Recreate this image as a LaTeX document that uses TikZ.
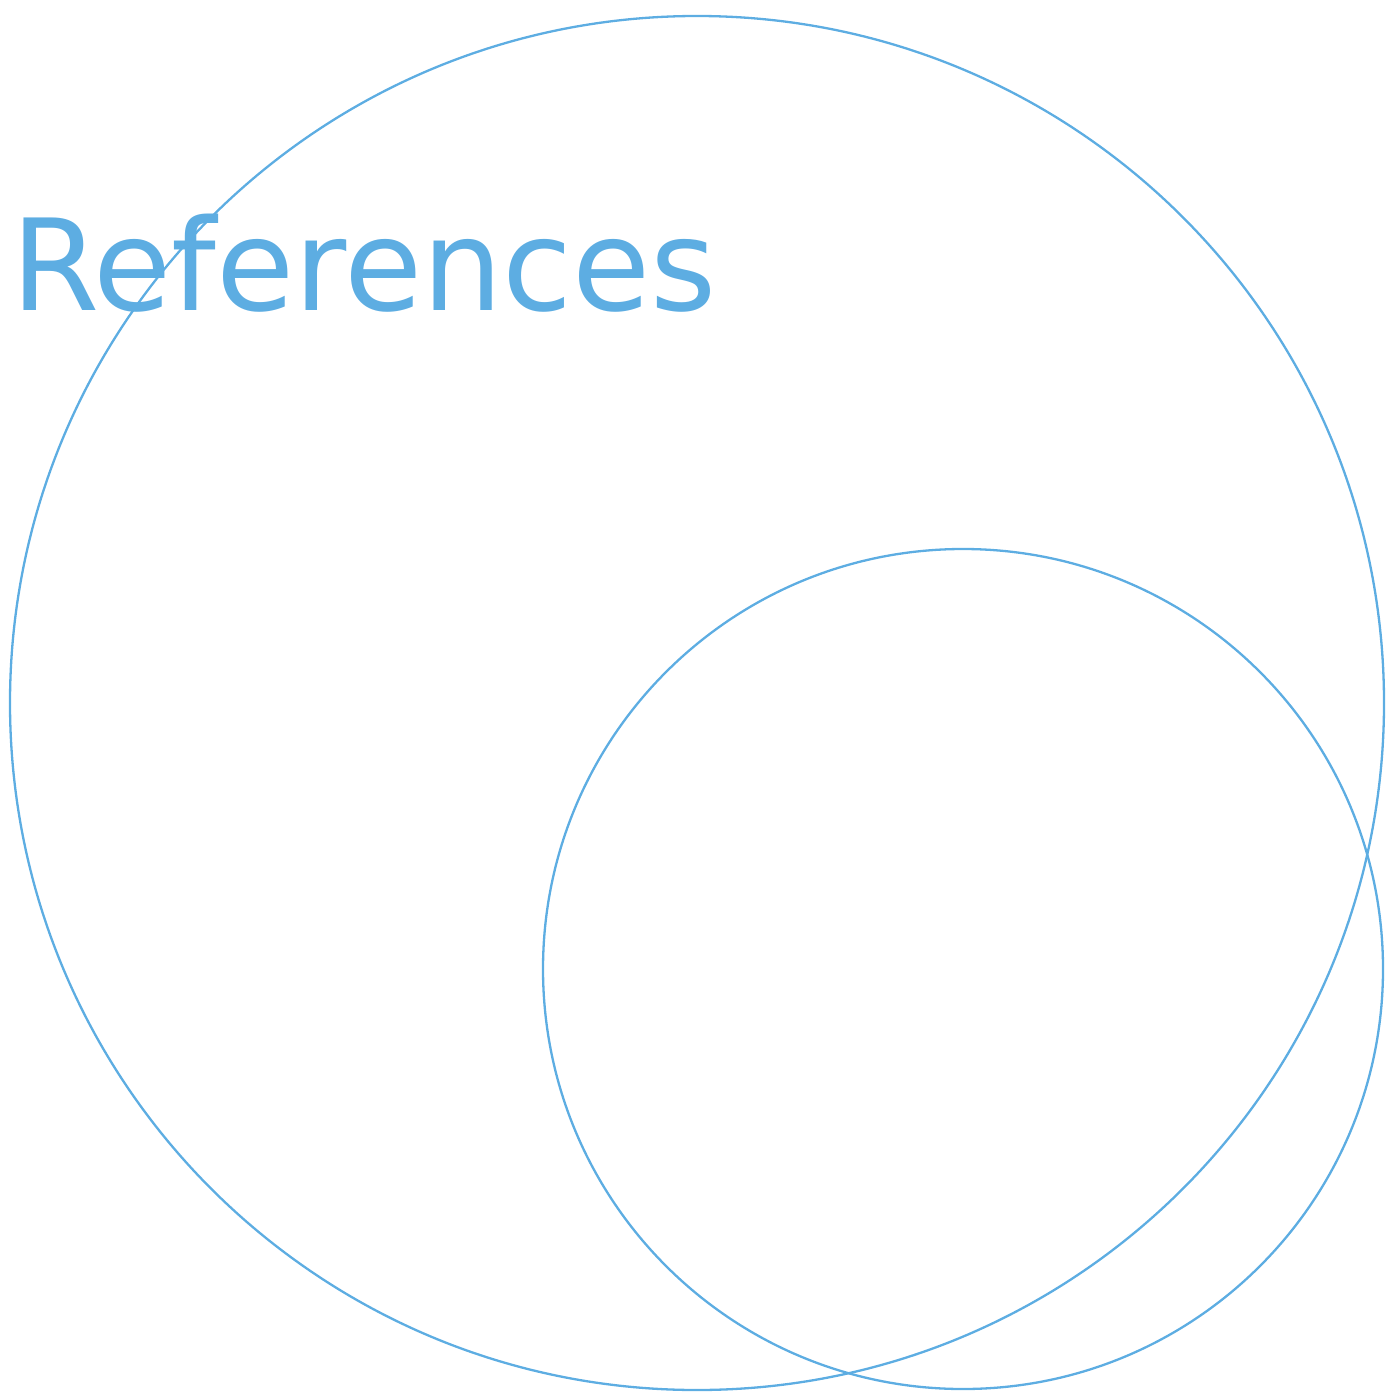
\documentclass[tikz,border=0pt]{standalone}
\usepackage{fontspec}
\setmainfont{DejaVu Sans}
\usepackage{xcolor}
\usetikzlibrary{positioning}
\definecolor{refblue}{RGB}{93,173,226}

\begin{document}
\begin{tikzpicture}[x=1pt, y=-1pt,
    setcircle/.style={circle, draw=refblue, line width=2.3pt, inner sep=0pt}
]
\useasboundingbox (0,0) rectangle (1399,1399);
\node[setcircle, minimum size=1374pt] (outer) at (697,703) {};
\node[setcircle, minimum size=840pt] (inner) at (963,969) {};
\node[anchor=base west, inner sep=0pt, text=refblue, font=\fontsize{127}{127}\selectfont] (title) at (11,310) {References};
\end{tikzpicture}
\end{document}
